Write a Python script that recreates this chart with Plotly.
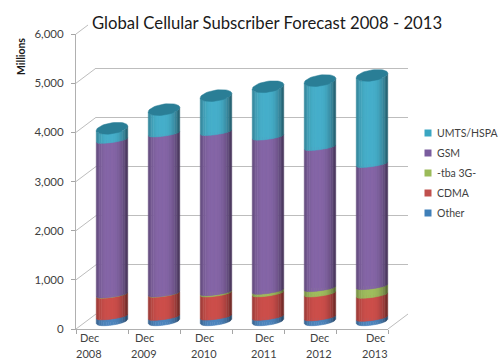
import math
import plotly.graph_objects as go

# ---- data (millions)
years = ["2008", "2009", "2010", "2011", "2012", "2013"]
other = [100, 90, 95, 90, 80, 70]
cdma = [440, 470, 470, 478, 485, 468]
tba3g = [5, 5, 25, 52, 109, 177]
gsm = [3145, 3255, 3260, 3135, 2871, 2485]
umts = [240, 490, 745, 1020, 1355, 1805]
series_names = ["Other", "CDMA", "-tba 3G-", "GSM", "UMTS/HSPA"]
y_ticks = [0, 1000, 2000, 3000, 4000, 5000, 6000]
series = [other, cdma, tba3g, gsm, umts]

# ---- style
W, H = 500, 361
FONT = "Lato"
TXT = "#3f3f3f"
GRID = "#bdbdbd"
base_rgb = [(79, 134, 190), (205, 80, 76), (160, 190, 95), (134, 103, 168), (72, 176, 203)]
legend_rgb = ["#3f7fb8", "#c0504d", "#9bbb59", "#7a5c9e", "#3aa6c2"]
top_rgb = "rgb(42,126,150)"

# geometry of the three planes in pixels
FX0, FX1 = 76, 388     # front plane
FY0, FY1 = 329, 34
DX, DY = 20, 15        # depth offset of back wall
BAR_W = 0.606
STRIPS = 18
PX_Y = 6000 / (FY0 - FY1)
SLOPE = 2.2 * PX_Y
RY_TOP, RY_IN, RY_BASE = 5.5 * PX_Y, 2.4 * PX_Y, 3.6 * PX_Y
BAR_FLOOR = -300       # room under zero for the curved cylinder base


def dom_x(a, b):
    return [a / W, b / W]


def dom_y(bottom, top):
    return [1 - bottom / H, 1 - top / H]


def shade(rgb, u):
    f = 1.0 - 0.36 * abs(u + 0.12) ** 2.6
    return "rgb(%d,%d,%d)" % tuple(int(c * f) for c in rgb)


def edge(xc, level, u, ry):
    return (xc + u * BAR_W / 2, level + SLOPE * u - ry * math.sqrt(max(0, 1 - u * u)))


fig = go.Figure()

# back wall grid carrier (first so it lies under everything)
fig.add_trace(go.Scatter(x=[0], y=[0], mode="none", xaxis="x", yaxis="y", hoverinfo="skip", showlegend=False))

# real stacked bars (sit just inside the cylinders)
for name, vals, col in zip(series_names, series, legend_rgb):
    fig.add_trace(go.Bar(x=list(range(6)), y=vals, name=name, marker=dict(color=col, line_width=0),
                         width=0.4, xaxis="x2", yaxis="y2", showlegend=False))

# cylinder shading
cum = [0] * 6
edges = [-1 + 2 * i / STRIPS for i in range(STRIPS + 1)]
for s, vals in enumerate(series):
    lo_level = cum[:]
    cum = [c + v for c, v in zip(cum, vals)]
    ry_lo = RY_BASE if s == 0 else RY_IN
    ry_hi = RY_TOP if s == len(series) - 1 else RY_IN
    for k in range(STRIPS):
        u0, u1 = edges[k], edges[k + 1]
        xs, ys = [], []
        for i in range(6):
            pts = []
            for u in (u0, (u0 + u1) / 2, u1):
                pts.append(edge(i, cum[i], u, ry_hi))
            for u in (u1, (u0 + u1) / 2, u0):
                pts.append(edge(i, lo_level[i], u, ry_lo))
            pts.append(pts[0])
            xs += [p[0] for p in pts] + [None]
            ys += [p[1] for p in pts] + [None]
        col = shade(base_rgb[s], (u0 + u1) / 2)
        fig.add_trace(go.Scatter(x=xs, y=ys, mode="lines", fill="toself", fillcolor=col,
                                 line=dict(color=col, width=0.5), xaxis="x2", yaxis="y2",
                                 hoverinfo="skip", showlegend=False))

# top ellipses
xs, ys = [], []
for i in range(6):
    for a in range(0, 49):
        t = a / 48 * 2 * math.pi
        u = math.cos(t)
        xs.append(i + u * BAR_W / 2)
        ys.append(cum[i] + SLOPE * u + RY_TOP * math.sin(t))
    xs.append(None)
    ys.append(None)
fig.add_trace(go.Scatter(x=xs, y=ys, mode="lines", fill="toself", fillcolor=top_rgb,
                         line=dict(color=top_rgb, width=0.5), xaxis="x2", yaxis="y2",
                         hoverinfo="skip", showlegend=False))

# front axes carrier
fig.add_trace(go.Scatter(x=[0], y=[0], mode="none", xaxis="x3", yaxis="y3", hoverinfo="skip", showlegend=False))

shapes = []
for v in y_ticks:
    py = FY0 - v / PX_Y
    frac = 0.6 if v == 6000 else 1
    shapes.append(dict(type="line", xref="paper", yref="paper", layer="below",
                       x0=FX0 / W, y0=1 - py / H,
                       x1=(FX0 + DX * frac) / W, y1=1 - (py - DY * frac) / H,
                       line=dict(color=GRID, width=1)))
shapes.append(dict(type="line", xref="paper", yref="paper", layer="below",
                   x0=FX1 / W, y0=1 - FY0 / H, x1=(FX1 + DX) / W, y1=1 - (FY0 - DY) / H,
                   line=dict(color=GRID, width=1)))

# legend
LEG_X, LEG_Y0, LEG_STEP = 428, 213, 20
annotations = []
for k, (name, col) in enumerate(zip(series_names, legend_rgb)):
    py = LEG_Y0 - k * LEG_STEP
    shapes.append(dict(type="rect", xref="paper", yref="paper",
                       x0=(LEG_X - 3.5) / W, x1=(LEG_X + 3.5) / W,
                       y0=1 - (py + 3.5) / H, y1=1 - (py - 3.5) / H,
                       fillcolor=col, line_width=0))
    annotations.append(dict(text=name, xref="paper", yref="paper", x=435 / W, y=1 - py / H,
                            xanchor="left", yanchor="middle", showarrow=False,
                            font=dict(family=FONT, size=10.5, color=TXT)))

# x labels (they sit off-centre in the reference)
label_px = [89, 144, 204, 264, 319, 375]
for yr, px in zip(years, label_px):
    annotations.append(dict(text="Dec", xref="paper", yref="paper", x=px / W, y=1 - 337.5 / H,
                            xanchor="center", yanchor="middle", showarrow=False,
                            font=dict(family=FONT, size=11, color=TXT)))
    annotations.append(dict(text=yr, xref="paper", yref="paper", x=px / W, y=1 - 353 / H,
                            xanchor="center", yanchor="middle", showarrow=False,
                            font=dict(family=FONT, size=11, color=TXT)))

annotations.append(dict(text="<b>Millions</b>", xref="paper", yref="paper", x=21 / W, y=1 - 57 / H,
                        textangle=-90, xanchor="center", yanchor="middle", showarrow=False,
                        font=dict(family=FONT, size=10.5, color="#1a1a1a")))
annotations.append(dict(text="Global Cellular Subscriber Forecast 2008 - 2013", xref="paper", yref="paper",
                        x=267 / W, y=1 - 23 / H, xanchor="center", yanchor="middle", showarrow=False,
                        font=dict(family=FONT, size=16.7, color="#1a1a1a")))

hidden = dict(visible=False, fixedrange=True, automargin=False)
fig.update_layout(
    width=W, height=H, autosize=False, margin=dict(l=0, r=0, t=0, b=0),
    paper_bgcolor="white", plot_bgcolor="rgba(0,0,0,0)", barmode="stack", showlegend=False,
    shapes=shapes, annotations=annotations, font=dict(family=FONT, color=TXT),
    # back wall
    xaxis=dict(domain=dom_x(FX0 + DX, FX1 + DX), range=[0, 6], anchor="y", showgrid=False, showticklabels=False,
               ticks="", zeroline=False, showline=False, automargin=False),
    yaxis=dict(domain=dom_y(FY0 - DY, FY1 - DY), range=[0, 6000], anchor="x", tickvals=y_ticks[:-1],
               showgrid=True, gridcolor=GRID, gridwidth=1, showticklabels=False, ticks="",
               zeroline=False, showline=False, automargin=False),
    # bars, half way through the depth
    xaxis2=dict(domain=dom_x(FX0 + DX / 2, FX1 + DX / 2), range=[-0.5, 5.5], anchor="y2", **hidden),
    yaxis2=dict(domain=dom_y(FY0 - DY / 2 - BAR_FLOOR / PX_Y, FY1 - DY / 2), range=[BAR_FLOOR, 6000],
                anchor="x2", **hidden),
    # front axes
    xaxis3=dict(domain=dom_x(FX0, FX1), range=[0, 6], anchor="y3", tickvals=list(range(7)), ticks="outside",
                ticklen=4, tickcolor="#a6a6a6", showticklabels=False, showgrid=False, zeroline=False,
                showline=True, linecolor="#b0b0b0", linewidth=1, automargin=False),
    yaxis3=dict(domain=dom_y(FY0, FY1), range=[0, 6000], anchor="x3", tickvals=y_ticks, tickformat=",d",
                ticks="outside", ticklen=4, tickcolor="#a6a6a6", showgrid=False, zeroline=False,
                showline=True, linecolor="#b0b0b0", linewidth=1, ticklabelstandoff=5, automargin=False,
                tickfont=dict(family=FONT, size=11.5, color=TXT)),
)

fig.write_html("out.html", config=dict(displayModeBar=False),
               post_script="document.body.style.margin='0';document.body.style.overflow='hidden';")
